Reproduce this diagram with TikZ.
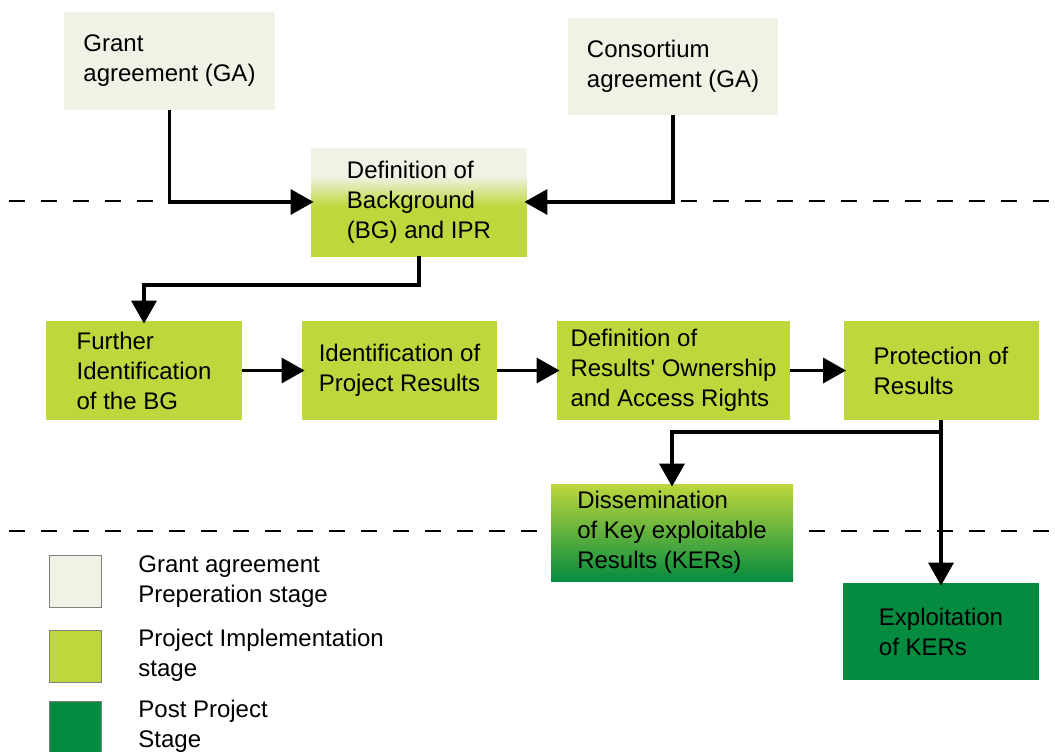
\documentclass[tikz,border=0pt]{standalone}
\usepackage{fontspec}
\newfontfamily\boxfont{Liberation Sans}
\usetikzlibrary{arrows.meta}
\definecolor{stagelight}{HTML}{F0F2E6}
\definecolor{stagelime}{HTML}{BED73C}
\definecolor{stagedark}{HTML}{058B40}
\pgfdeclareverticalshading{bgfade}{100bp}{color(0bp)=(stagelime); color(48bp)=(stagelime); color(62bp)=(stagelight); color(100bp)=(stagelight)}
\tikzset{
    flow/.style     = {-{Triangle[length=11.5pt, width=12.5pt]}, line width=1.75pt, draw=black, shorten >=-1.5pt},
    phase/.style    = {dash pattern=on 8pt off 8pt, line width=1.4pt, draw=black},
    stagebox/.style = {rectangle, inner sep=0pt, align=left, font=\boxfont\fontsize{12}{15}\selectfont},
    prepbox/.style  = {stagebox, fill=stagelight},
    implbox/.style  = {stagebox, fill=stagelime},
    postbox/.style  = {stagebox, fill=stagedark},
    keybox/.style   = {rectangle, draw=black!50, line width=0.5pt, minimum size=26pt, inner sep=0pt},
    keytext/.style  = {anchor=west, align=left, inner sep=0pt, font=\boxfont\fontsize{12}{15}\selectfont}
}
\begin{document}
\begin{tikzpicture}[x=0.5pt, y=-0.5pt]
    \useasboundingbox (0,0) rectangle (1055,751);

    % --- Stage boundaries ---
    \draw[phase] (9,201) -- (1055,201);
    \draw[phase] (9,531) -- (1055,531);

    % --- Agreement Nodes ---
    \node[prepbox, minimum width=105.5pt, minimum height=49pt] (ga) at (169.5, 61) {Grant\\agreement (GA)};
    \node[prepbox, minimum width=105pt, minimum height=48.5pt] (ca) at (673, 66.5) {Consortium\\agreement (GA)};
    \node[implbox, shading=bgfade, minimum width=108pt, minimum height=54pt] (defbg) at (419, 202) {Definition of\\Background\\(BG) and IPR};

    % --- Implementation Row ---
    \node[implbox, minimum width=98pt, minimum height=49.5pt] (further) at (144, 370.5) {Further\\Identification\\of the BG};
    \node[implbox, minimum width=97.5pt, minimum height=49.5pt] (idproj) at (399.5, 370.5) {Identification of\\Project Results};
    \node[implbox, minimum width=116.5pt, minimum height=49.5pt] (defres) at (673.5, 370.5) {Definition of\\Results' Ownership\\and Access Rights};
    \node[implbox, minimum width=97.5pt, minimum height=49.5pt] (protect) at (941, 370.5) {Protection of\\Results};

    % --- Post Project Nodes ---
    \node[stagebox, top color=stagelime, bottom color=stagedark, minimum width=121pt, minimum height=48.5pt] (dissem) at (672, 532.5) {Dissemination\\of Key exploitable\\Results (KERs)};
    \node[postbox, minimum width=98pt, minimum height=48.5pt] (exploit) at (941, 631.5) {Exploitation\\of KERs};

    % --- Legend ---
    \node[keybox, fill=stagelight] (key_prep) at (75, 581) {};
    \node[keybox, fill=stagelime] (key_impl) at (75, 656) {};
    \node[keybox, fill=stagedark] (key_post) at (75, 727) {};
    \node[keytext] (txt_prep) at (138, 582) {Grant agreement\\Preperation stage};
    \node[keytext] (txt_impl) at (138, 655) {Project Implementation\\stage};
    \node[keytext] (txt_post) at (138, 726) {Post Project\\Stage};

    % --- Connections ---
    \draw[flow] (ga.south) |- (defbg.west);
    \draw[flow] (ca.south) |- (defbg.east);
    \draw[flow] (defbg.south) |- (144, 285) -- (further.north);

    \draw[flow] (further.east) -- (idproj.west);
    \draw[flow] (idproj.east) -- (defres.west);
    \draw[flow] (defres.east) -- (protect.west);

    % Protection splits to dissemination and exploitation
    \coordinate (split) at (941, 432);
    \draw[flow] (protect.south) -- (exploit.north);
    \draw[flow] (split) -| (dissem.north);

\end{tikzpicture}
\end{document}
